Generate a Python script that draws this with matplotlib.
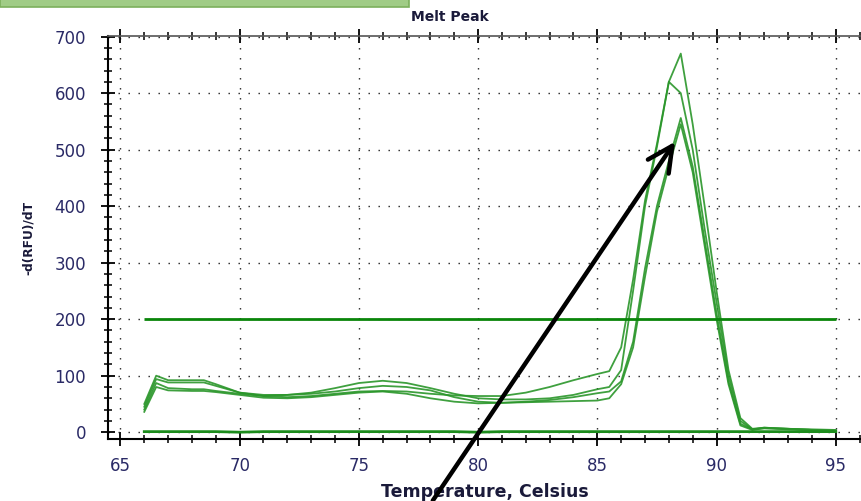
import matplotlib
matplotlib.use("Agg")
from matplotlib import pyplot as plt
from matplotlib.patches import Rectangle
from matplotlib.ticker import MultipleLocator

plt.rcParams['font.family'] = ['DejaVu Sans']

# temperature grid (Celsius)
temps = [66, 66.5, 67, 68, 68.5, 69, 70, 71, 72, 73, 74, 75, 76, 77, 78, 79, 80,
         81, 82, 83, 84, 85, 85.5, 86, 86.5, 87, 87.5, 88, 88.5, 89, 89.5, 90,
         90.5, 91, 91.5, 92, 93, 94, 95]

# -d(RFU)/dT of each well
well_a = [50, 100, 92, 92, 92, 85, 70, 64, 62, 64, 68, 72, 73, 72, 68, 65, 64,
          64, 70, 80, 92, 103, 108, 150, 270, 410, 510, 620, 670, 545, 400, 250,
          110, 25, 6, 8, 6, 5, 4]
well_b = [45, 94, 88, 88, 88, 82, 70, 66, 66, 70, 78, 87, 91, 87, 78, 68, 60,
          58, 58, 60, 66, 76, 80, 110, 250, 400, 505, 620, 600, 500, 360, 230,
          100, 20, 5, 7, 6, 4, 3]
well_c = [40, 87, 78, 76, 76, 73, 68, 64, 66, 68, 72, 78, 82, 80, 74, 62, 54,
          52, 54, 57, 62, 69, 72, 90, 160, 290, 400, 480, 556, 470, 340, 210,
          90, 15, 5, 8, 6, 4, 2]
well_d = [36, 80, 74, 73, 73, 71, 66, 61, 60, 62, 66, 70, 72, 68, 60, 54, 51,
          52, 53, 54, 55, 56, 60, 85, 150, 275, 390, 470, 545, 460, 330, 200,
          85, 12, 4, 7, 5, 3, 2]
blank = [1, 1, 1, 1, 1, 1, 0, 1, 1, 1, 1, 1, 1, 1, 1, 1, 0,
         1, 1, 1, 1, 1, 1, 1, 1, 1, 1, 1, 1, 1, 1, 1,
         1, 1, 1, 1, 1, 1, 1]

threshold = 200
threshold_range = [66, 95]

# arrow pointing at the peaks (data coords)
arrow_tip = (88.26, 514)
arrow_tail = (78.1, -121)

fig = plt.figure(figsize=(8.62, 5.01), dpi=100)
ax = fig.add_axes([0.1256, 0.1238, 0.8744, 0.8042])

line_green = '#2a962a'
for well in [well_a, well_b, well_c, well_d]:
    ax.plot(temps, well, color=line_green, lw=1.3, alpha=0.9)
ax.plot(temps, blank, color='#1c8c1c', lw=2)
ax.hlines(threshold, threshold_range[0], threshold_range[1], color='#0a850a', lw=2)

ax.set_xlim(64.49, 96.1)
ax.set_ylim(-12, 701)
ax.xaxis.set_major_locator(MultipleLocator(5))
ax.xaxis.set_minor_locator(MultipleLocator(1))
ax.yaxis.set_major_locator(MultipleLocator(100))
ax.yaxis.set_minor_locator(MultipleLocator(20))

ax.grid(True, which='major', color='#222222', lw=1, linestyle=(0, (1, 6.2)))

label_col = '#2a2a66'
ax.tick_params(axis='both', which='major', direction='inout', length=10, width=1.3,
               labelsize=12, labelcolor=label_col)
ax.tick_params(axis='both', which='minor', direction='inout', length=6, width=1.1)
ax.tick_params(axis='x', which='both', top=True, pad=8)
ax.tick_params(axis='y', pad=11)

for s in ['left', 'bottom']:
    ax.spines[s].set_linewidth(1.5)
ax.spines['top'].set_linewidth(1.2)
ax.spines['top'].set_color('#555555')
ax.spines['right'].set_visible(False)

ax.set_xlabel('Temperature, Celsius', fontsize=12.5, fontweight='bold', color='#1a1a3a', labelpad=6)
ax.set_ylabel('-d(RFU)/dT', fontsize=8.8, fontweight='bold', color='#1a1a3a', labelpad=14)
fig.text(0.522, 0.966, 'Melt Peak', fontsize=10, fontweight='bold', color='#1a1a3a',
         ha='center', va='center')

fig.patches.append(Rectangle((0, 0.986), 0.475, 0.02, transform=fig.transFigure,
                             facecolor='#a0cc86', edgecolor='#7cb05c', lw=1.2))

ax.annotate('', xy=arrow_tip, xytext=arrow_tail, xycoords='data', textcoords='data',
            annotation_clip=False,
            arrowprops=dict(arrowstyle='->,head_length=0.9,head_width=0.45',
                            color='black', lw=3.2, mutation_scale=20, shrinkA=0, shrinkB=0))

fig.savefig('out.png', dpi=100)
